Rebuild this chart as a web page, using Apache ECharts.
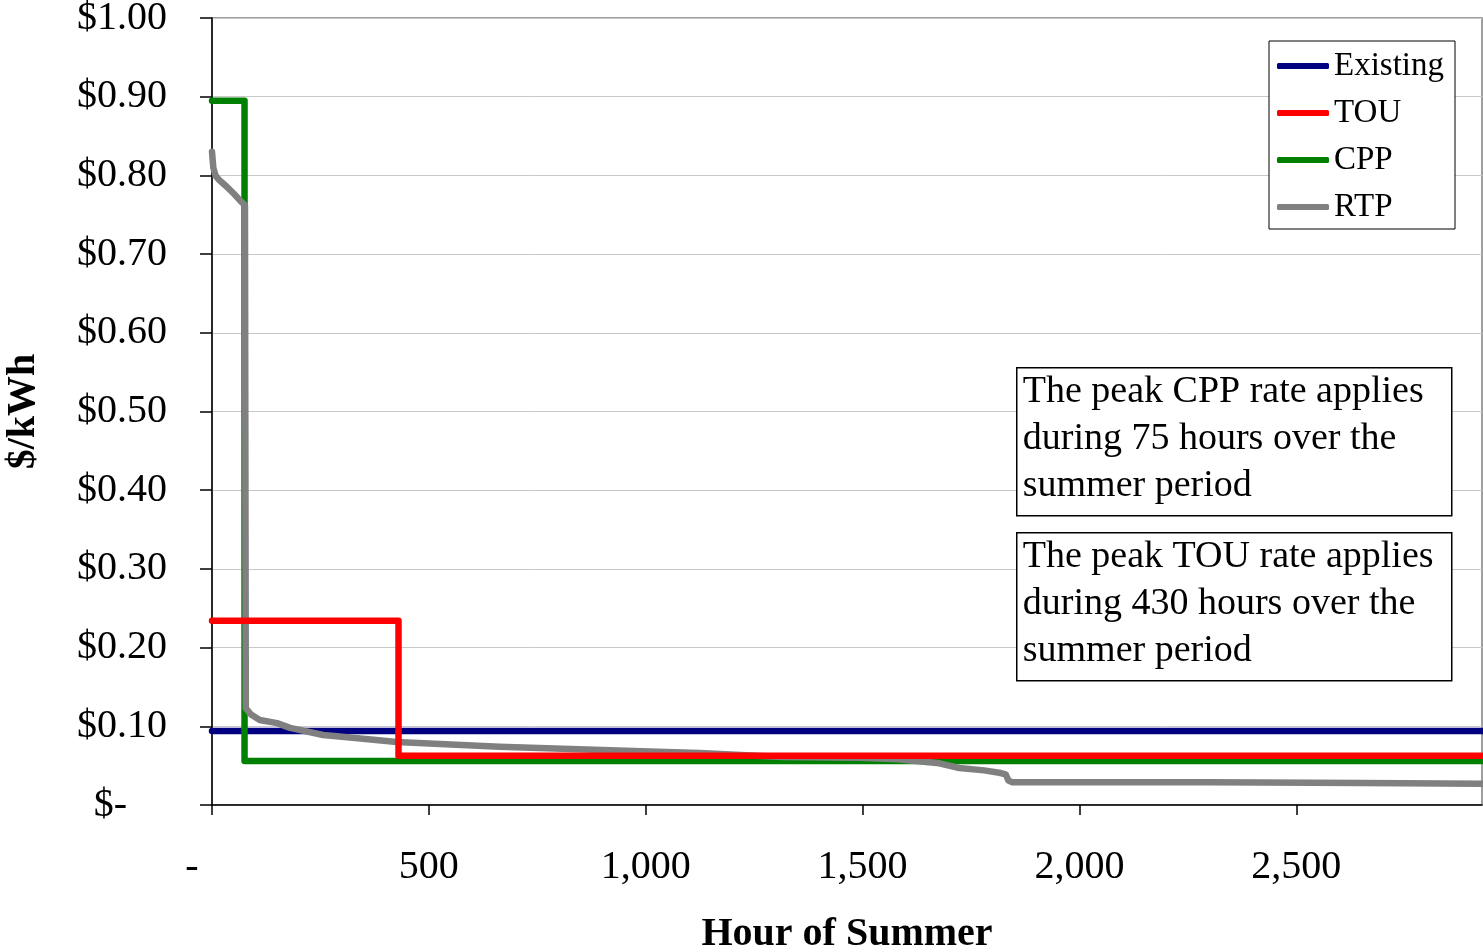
<!DOCTYPE html>
<html>
<head>
<meta charset="utf-8">
<script src="https://cdn.jsdelivr.net/npm/echarts@6/dist/echarts.min.js"></script>
<style>
  html, body { margin: 0; padding: 0; background: #fff; }
  #chart { width: 1483px; height: 952px; }
</style>
</head>
<body>
<div id="chart"></div>
<script>
// rates in $/kWh against hour of summer (sorted price-duration view)
const existingHours = [0, 2928];
const existingRates = [0.094, 0.094];

const touHours = [0, 430, 430, 2928];
const touRates = [0.234, 0.234, 0.0625, 0.0625];

const cppHours = [0, 75, 75, 2928];
const cppRates = [0.895, 0.895, 0.056, 0.056];

const rtpHours = [0, 3, 8, 15, 25, 35, 50, 65, 76, 78, 90, 110, 150, 180, 256, 330, 426, 663, 1009, 1124, 1316, 1492, 1580, 1677, 1723, 1780, 1815, 1830, 1836, 1845, 2300, 2650, 2928];
const rtpRates = [0.83, 0.81, 0.80, 0.795, 0.79, 0.785, 0.777, 0.768, 0.762, 0.123, 0.115, 0.108, 0.104, 0.098, 0.089, 0.085, 0.080, 0.074, 0.068, 0.066, 0.061, 0.060, 0.058, 0.053, 0.047, 0.044, 0.041, 0.039, 0.031, 0.029, 0.029, 0.028, 0.027];

const seriesNames = ['Existing', 'TOU', 'CPP', 'RTP'];
const seriesColors = ['#000080', '#ff0000', '#008000', '#808080'];

const serif = "'Liberation Serif', 'Times New Roman', serif";

function pairs(xs, ys) {
    return xs.map((x, i) => [x, ys[i]]);
}

function line(name, color, data, z) {
    return {
        name: name,
        type: 'line',
        data: data,
        symbol: 'none',
        z: z,
        color: color,
        lineStyle: { color: color, width: 6.5, cap: 'round', join: 'round' },
        animation: false
    };
}

function noteBox(top, text) {
    return {
        type: 'group', left: 1016, top: top, z: 100,
        children: [
            { type: 'rect', z: 100, shape: { x: 0, y: 0, width: 435, height: 148 },
              style: { fill: '#fff', stroke: '#000', lineWidth: 1.5 } },
            { type: 'text', z: 101, x: 6, y: 1,
              style: { text: text, font: '38px ' + serif, fill: '#000', lineHeight: 47, verticalAlign: 'top' } }
        ]
    };
}

const chart = echarts.init(document.getElementById('chart'));
chart.setOption({
    backgroundColor: '#fff',
    animation: false,
    grid: {
        left: 212, top: 18, right: 1, bottom: 147,
        outerBoundsMode: 'none',
        containLabel: false,
        show: true, borderColor: '#808080', borderWidth: 1.5
    },
    legend: {
        data: seriesNames,
        orient: 'vertical',
        left: 1269, top: 41,
        backgroundColor: '#fff',
        borderColor: '#000', borderWidth: 1,
        padding: [7, 11, 4, 8],
        icon: 'roundRect',
        itemWidth: 52, itemHeight: 6,
        itemGap: 11,
        itemTextGap: 12,
        textStyle: { fontFamily: serif, fontSize: 33, color: '#000', lineHeight: 36 }
    },
    xAxis: {
        type: 'value',
        min: 0, max: 2928, interval: 500,
        name: 'Hour of Summer',
        nameLocation: 'middle',
        nameGap: 110,
        nameTextStyle: { fontFamily: serif, fontSize: 40, fontWeight: 'bold', color: '#000' },
        axisLine: { show: true, lineStyle: { color: '#000', width: 1.5 } },
        axisTick: { show: true, length: 10, lineStyle: { color: '#000', width: 1.5 } },
        splitLine: { show: false },
        axisLabel: {
            margin: 42,
            showMaxLabel: false,
            fontFamily: serif, fontSize: 40, color: '#000',
            formatter: v => v === 0 ? '-    ' : (v % 500 === 0 ? v.toLocaleString('en-US') : '')
        }
    },
    yAxis: {
        type: 'value',
        min: 0, max: 1, interval: 0.1,
        name: '$/kWh',
        nameLocation: 'middle',
        nameRotate: 90,
        nameGap: 168,
        nameTextStyle: { fontFamily: serif, fontSize: 40, fontWeight: 'bold', color: '#000' },
        axisLine: { show: true, lineStyle: { color: '#000', width: 1.5 } },
        axisTick: { show: true, length: 12, lineStyle: { color: '#000', width: 1.5 } },
        splitLine: { show: true, lineStyle: { color: '#c8c8c8', width: 1 } },
        axisLabel: {
            margin: 45,
            fontFamily: serif, fontSize: 40, color: '#000',
            formatter: v => v === 0 ? '$-    ' : '$' + v.toFixed(2)
        }
    },
    series: [
        line(seriesNames[0], seriesColors[0], pairs(existingHours, existingRates), 2),
        line(seriesNames[1], seriesColors[1], pairs(touHours, touRates), 4),
        line(seriesNames[2], seriesColors[2], pairs(cppHours, cppRates), 2),
        line(seriesNames[3], seriesColors[3], pairs(rtpHours, rtpRates), 3)
    ],
    graphic: [
        noteBox(367, 'The peak CPP rate applies\nduring 75 hours over the\nsummer period'),
        noteBox(532, 'The peak TOU rate applies\nduring 430 hours over the\nsummer period')
    ]
});
</script>
</body>
</html>
